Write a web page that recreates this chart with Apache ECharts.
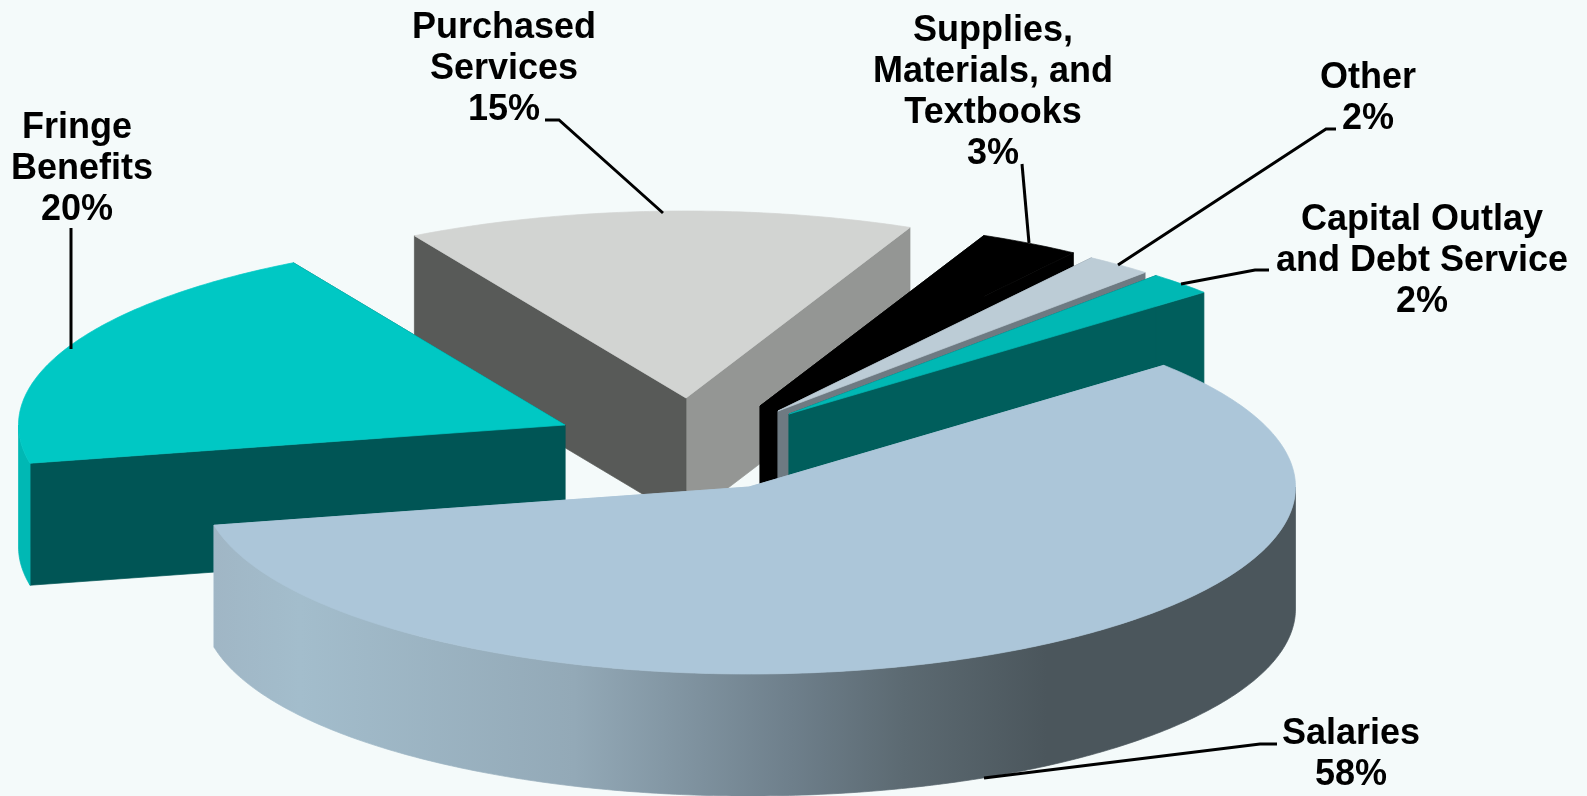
<!DOCTYPE html>
<html>
<head>
<meta charset="utf-8">
<style>html,body{margin:0;padding:0;background:#F4FAFA}#chart{width:1587px;height:796px}</style>
<script src="https://cdn.jsdelivr.net/npm/echarts@6/dist/echarts.min.js"></script>
</head>
<body>
<div id="chart"></div>
<script>
// Budget shares, listed clockwise from the back-right edge of Salaries
var categories = ['Salaries', 'Fringe \nBenefits', 'Purchased\nServices', 'Supplies,\nMaterials, and\nTextbooks', 'Other', 'Capital Outlay\nand Debt Service'];
var shares = [58, 20, 15, 3, 2, 2];
var percentPadding = ['', ' ', '', '', '', ''];

// Back-to-front order of the exploded wedges
var paintOrder = [2, 1, 3, 4, 5, 0];

// Pie projection
var firstEdgeDeg = 40.6, radiusX = 546.5, radiusY = 187, thickness = 122;

// Where each wedge's tip sits, and its colours
var wedgeTips = [[749, 487], [565, 425], [686, 398], [760, 406], [778, 411], [789, 414]];
var topColors = ['#ACC6D9', '#00C8C4', '#D2D4D2', '#000000', '#BCCCD6', '#00B8B4'];
var endFaceColors = ['#ACC6D9', '#005555', '#949694', '#000000', '#6E7A82', '#005E5C'];
var startFaceColors = ['#ACC6D9', '#005555', '#585A58', '#000000', '#6E7A82', '#005E5C'];
var wallStops = [[0, '#A0B6C5'], [0.08, '#A3BDCC'], [0.333, '#93A9B7'], [0.534, '#6E7F8B'], [0.637, '#5C6A72'], [0.77, '#4B565C'], [1, '#4B565C']];
var fringeWall = '#00B8B4';

// Label centres and leader routes
var labelCentres = [[1351, 714], [82, 108], [504, 8], [993, 11], [1368, 58], [1422, 200]];
var leaders = [
  [[1277, 744], [1260, 744], [984, 778]],
  [[71, 228], [71, 349]],
  [[545, 120], [559, 120], [663, 213]],
  [[1022, 164], [1029, 243]],
  [[1336, 129], [1326, 129], [1118, 265]],
  [[1269, 270], [1255, 270], [1181, 284]]
];

var total = shares.reduce(function (a, b) { return a + b; }, 0);
var wedgeAngles = [];
shares.reduce(function (start, v) {
  var end = start - v / total * 360;
  wedgeAngles.push([start, end]);
  return end;
}, firstEdgeDeg);

function rim(c, deg, drop) {
  var r = deg * Math.PI / 180;
  return [c[0] + radiusX * Math.cos(r), c[1] - radiusY * Math.sin(r) + (drop || 0)];
}
function arc(c, from, to, drop) {
  var pts = [], n = Math.max(2, Math.ceil(Math.abs(from - to) * 1.5));
  for (var i = 0; i <= n; i++) pts.push(rim(c, from + (to - from) * i / n, drop));
  return pts;
}
function poly(points, fill) {
  return { type: 'polygon', shape: { points: points }, style: { fill: fill, stroke: fill, lineWidth: 0.7, lineJoin: 'round' } };
}
function renderWedge(params, api) {
  var i = api.value(0);
  var c = wedgeTips[i], a = wedgeAngles[i];
  var base = [c[0], c[1] + thickness];
  var kids = [];
  // Radial faces first, then the outer wall, then the top
  kids.push(poly([c, rim(c, a[1]), rim(c, a[1], thickness), base], endFaceColors[i]));
  kids.push(poly([c, rim(c, a[0]), rim(c, a[0], thickness), base], startFaceColors[i]));
  // Only the front half of the circle shows its wall
  var from = Math.min(a[0], 0), to = Math.max(a[1], -180);
  if (from > to) {
    var top = arc(c, from, to, 0), bottom = arc(c, to, from, thickness);
    var fill = i === 0
      ? new echarts.graphic.LinearGradient(0, 0, 1, 0, wallStops.map(function (s) { return { offset: s[0], color: s[1] }; }))
      : fringeWall;
    kids.push(poly(top.concat(bottom), fill));
  }
  kids.push(poly([c].concat(arc(c, a[0], a[1], 0)), topColors[i]));
  return { type: 'group', children: kids };
}
function renderLabel(params, api) {
  var i = api.value(0);
  return {
    type: 'group',
    children: [
      { type: 'polyline', shape: { points: leaders[i] }, style: { stroke: '#000', lineWidth: 3, fill: null } },
      {
        type: 'text',
        style: {
          x: labelCentres[i][0], y: labelCentres[i][1],
          text: categories[i] + '\n' + shares[i] + '%' + percentPadding[i],
          fill: '#000', align: 'center', verticalAlign: 'top',
          fontFamily: '"Liberation Sans", Arial, sans-serif', fontWeight: 'bold', fontSize: 36, lineHeight: 41
        }
      }
    ]
  };
}

var chart = echarts.init(document.getElementById('chart'), null, { renderer: 'canvas' });
var paintRows = paintOrder.map(function (i) { return [i, shares[i]]; });
chart.setOption({
  backgroundColor: '#F4FAFA',
  animation: false,
  series: [
    { type: 'custom', coordinateSystem: 'none', silent: true, z: 1, renderItem: renderWedge, encode: { value: 0 }, data: paintRows },
    { type: 'custom', coordinateSystem: 'none', silent: true, z: 2, renderItem: renderLabel, encode: { value: 0 }, data: paintRows }
  ]
});
</script>
</body>
</html>
